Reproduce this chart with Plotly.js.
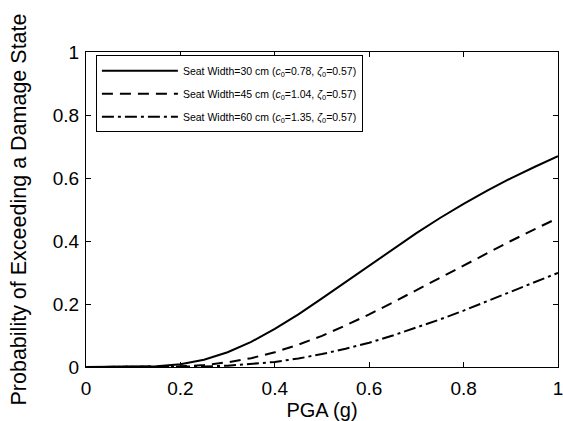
<!DOCTYPE html>
<html>
<head>
<meta charset="utf-8">
<script src="https://cdn.plot.ly/plotly-3.0.1.min.js"></script>
<style>html,body{margin:0;padding:0;background:#fff;}#plot{width:563px;height:421px;}</style>
</head>
<body>
<div id="plot"></div>
<script>
const pga = [0, 0.05, 0.10, 0.15, 0.20, 0.25, 0.30, 0.35, 0.40, 0.45, 0.50, 0.55, 0.60, 0.65, 0.70, 0.75, 0.80, 0.85, 0.90, 0.95, 1.00];
const p30 = [0, 0, 0.0002, 0.002, 0.0085, 0.023, 0.047, 0.080, 0.121, 0.167, 0.218, 0.270, 0.323, 0.375, 0.425, 0.473, 0.518, 0.560, 0.599, 0.635, 0.669];
const p45 = [0, 0, 0, 0.0003, 0.002, 0.006, 0.015, 0.028, 0.047, 0.071, 0.099, 0.132, 0.167, 0.205, 0.244, 0.283, 0.323, 0.362, 0.400, 0.437, 0.473];
const p60 = [0, 0, 0, 0, 0.0004, 0.0015, 0.004, 0.009, 0.016, 0.027, 0.041, 0.058, 0.077, 0.100, 0.125, 0.151, 0.179, 0.209, 0.238, 0.269, 0.299];
const names = [
  'Seat Width=30 cm (<i>c</i><sub>0</sub>=0.78, <i>ζ</i><sub>0</sub>=0.57)',
  'Seat Width=45 cm (<i>c</i><sub>0</sub>=1.04, <i>ζ</i><sub>0</sub>=0.57)',
  'Seat Width=60 cm (<i>c</i><sub>0</sub>=1.35, <i>ζ</i><sub>0</sub>=0.57)'
];
const xTicks = [0, 0.2, 0.4, 0.6, 0.8, 1];
const yTicks = [0, 0.2, 0.4, 0.6, 0.8, 1];

const font = 'Liberation Sans, Arial, sans-serif';
const traces = [
  {x: pga, y: p30, name: names[0], legendgroup: 'a', mode: 'lines', line: {color: '#000', width: 2, dash: 'solid'}},
  {x: pga, y: p45, name: names[1], legendgroup: 'b', mode: 'lines', line: {color: '#000', width: 2, dash: '11px,7px'}},
  {x: pga, y: p60, name: names[2], legendgroup: 'c', mode: 'lines', line: {color: '#000', width: 2, dash: '12px,4px,3px,4px'}}
];
const layout = {
  width: 563, height: 421,
  margin: {l: 86, r: 5, t: 52, b: 54},
  paper_bgcolor: '#fff', plot_bgcolor: '#fff',
  font: {family: font, color: '#000', size: 19},
  showlegend: true,
  legend: {
    x: 0.021, y: 0.99, xanchor: 'left', yanchor: 'top',
    bgcolor: '#fff', bordercolor: '#000', borderwidth: 1,
    font: {family: font, size: 10.5, color: '#000'},
    itemwidth: 76, tracegroupgap: 4
  },
  xaxis: {
    range: [0, 1], tickvals: xTicks, ticktext: xTicks.map(String),
    ticks: 'inside', ticklen: 5, tickcolor: '#000', showline: true, linecolor: '#000', linewidth: 1,
    mirror: 'ticks', showgrid: false, zeroline: false,
    tickfont: {size: 19}, ticklabeloverflow: 'allow', ticklabelstandoff: 4,
    title: {text: 'PGA (g)', font: {size: 20}, standoff: 6}
  },
  yaxis: {
    range: [0, 1], tickvals: yTicks, ticktext: yTicks.map(String),
    ticks: 'inside', ticklen: 5, tickcolor: '#000', showline: true, linecolor: '#000', linewidth: 1,
    mirror: 'ticks', showgrid: false, zeroline: false,
    tickfont: {size: 19}, ticklabeloverflow: 'allow', ticklabelstandoff: 2,
    title: {text: 'Probability of Exceeding a Damage State', font: {size: 21.5}, standoff: 20}
  }
};
Plotly.newPlot('plot', traces, layout, {staticPlot: true});
</script>
</body>
</html>
